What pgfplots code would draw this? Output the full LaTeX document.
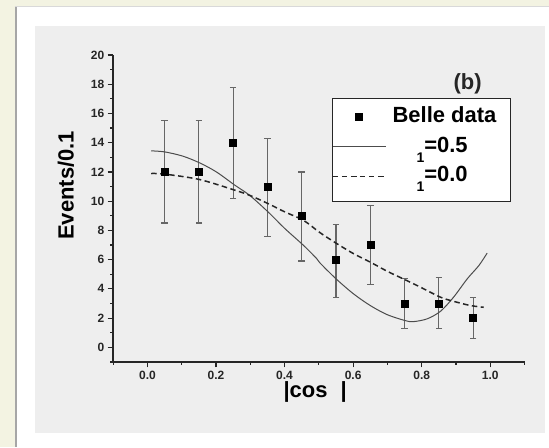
\documentclass[border=0pt]{standalone}
\usepackage{fontspec}
\setmainfont{Liberation Sans}
\usepackage{pgfplots}
\pgfplotsset{compat=1.18}
\definecolor{cream}{HTML}{F3F3E2}
\definecolor{panel}{HTML}{EEEEEE}
\newcommand\fsz[1]{\fontsize{#1}{#1}\selectfont\bfseries}
\begin{document}
\begin{tikzpicture}
\fill[cream] (-113.3pt,-84.7pt) rectangle (435.7pt,362.3pt);
\fill[white] (-98.3pt,-84.7pt) rectangle (435.7pt,355.3pt);
\draw[black!35, line width=2pt] (-97.3pt,-84.7pt) -- (-97.3pt,355.3pt);
\draw[black!15, line width=1pt] (-98.3pt,355.3pt) -- (435.7pt,355.3pt);
\fill[panel] (-78.3pt,-70.7pt) rectangle (431.7pt,336.3pt);
\begin{axis}[
  at={(0pt,0pt)}, anchor=south west,
  scale only axis, width=411.7pt, height=307.3pt,
  xmin=-0.1, xmax=1.1, ymin=-1, ymax=20,
  axis x line*=bottom, axis y line*=left,
  axis line style={-, line width=1.4pt, black!85},
  xtick={0,0.2,0.4,0.6,0.8,1.0},
  minor xtick={-0.1,0.1,0.3,0.5,0.7,0.9,1.1},
  ytick={0,2,4,6,8,10,12,14,16,18,20},
  minor ytick={-1,1,3,5,7,9,11,13,15,17,19},
  tick align=outside,
  major tick length=5.5pt, minor tick length=3pt,
  every tick/.style={line width=1.2pt, black!85},
  /pgf/number format/assume math mode=true,
  xticklabel style={font=\fsz{12}, text=black!85, /pgf/number format/.cd, fixed, fixed zerofill, precision=1},
  yticklabel style={font=\fsz{12}, text=black!85},
  xlabel={|cos\hspace{13pt}|},
  xlabel style={font=\fsz{22}, at={(axis description cs:0.491,-0.098)}, anchor=center},
  ylabel={Events/0.1},
  ylabel style={font=\fsz{22}, at={(axis description cs:-0.115,0.575)}, anchor=center},
  legend cell align=left,
  legend image code/.code={\draw[mark repeat=2,mark phase=2,#1] plot coordinates {(0pt,3pt) (26.5pt,3pt) (53pt,3pt)};},
  legend style={at={(axis description cs:0.531,0.859)}, anchor=north west,
    draw=black!85, line width=1pt, fill=white, font=\fsz{22},
    inner xsep=0pt, inner ysep=7pt, column sep=4pt, row sep=0pt,
    nodes={inner xsep=2pt, inner ysep=2pt, text height=15pt, text depth=10.5pt}},
]
\addplot[only marks, mark=square*, mark size=3.5pt, black,
  error bars/.cd, y dir=both, y explicit, error mark=-,
  error bar style={line width=1.2pt, black!60},
  error mark options={rotate=90, line width=1.2pt, mark size=3.3pt, black!60}]
  coordinates {
  (0.05,12) += (0,3.5) -= (0,3.5)
  (0.15,12) += (0,3.5) -= (0,3.5)
  (0.25,14) += (0,3.8) -= (0,3.8)
  (0.35,11) += (0,3.3) -= (0,3.4)
  (0.45,9)  += (0,3.0) -= (0,3.1)
  (0.55,6)  += (0,2.4) -= (0,2.6)
  (0.65,7)  += (0,2.7) -= (0,2.7)
  (0.75,3)  += (0,1.7) -= (0,1.7)
  (0.85,3)  += (0,1.8) -= (0,1.7)
  (0.95,2)  += (0,1.4) -= (0,1.4)
  };
\addlegendentry{Belle data\hspace*{12pt}}
\addplot[black!70, line width=1pt, smooth] coordinates {
  (0.011,13.44) (0.050,13.37) (0.103,13.08) (0.152,12.62) (0.201,12.0)
  (0.255,11.09) (0.298,10.40) (0.352,9.26) (0.401,8.12) (0.455,6.98)
  (0.494,6.06) (0.503,5.78) (0.550,4.69) (0.601,3.66) (0.650,2.86)
  (0.699,2.24) (0.752,1.83) (0.776,1.76) (0.816,1.95) (0.855,2.47)
  (0.893,3.43) (0.933,4.69) (0.967,5.60) (0.991,6.45)
  };
\addlegendentry{\hspace*{24pt}\raisebox{-10pt}{\fsz{14}1}=0.5}
\addplot[black!85, line width=1.5pt, dash pattern=on 5.5pt off 3.5pt, smooth] coordinates {
  (0.011,11.89) (0.050,11.85) (0.152,11.48) (0.255,10.75) (0.298,10.40)
  (0.352,9.83) (0.401,9.26) (0.455,8.69) (0.503,7.85) (0.550,7.13)
  (0.601,6.41) (0.650,5.83) (0.699,5.21) (0.752,4.62) (0.796,4.12)
  (0.855,3.43) (0.893,3.15) (0.942,2.86) (0.981,2.74)
  };
\addlegendentry{\hspace*{24pt}\raisebox{-10pt}{\fsz{14}1}=0.0}
\node[font=\fsz{22}, black!85] at (axis cs:0.934,18.0) {(b)};
\end{axis}
\end{tikzpicture}
\end{document}
